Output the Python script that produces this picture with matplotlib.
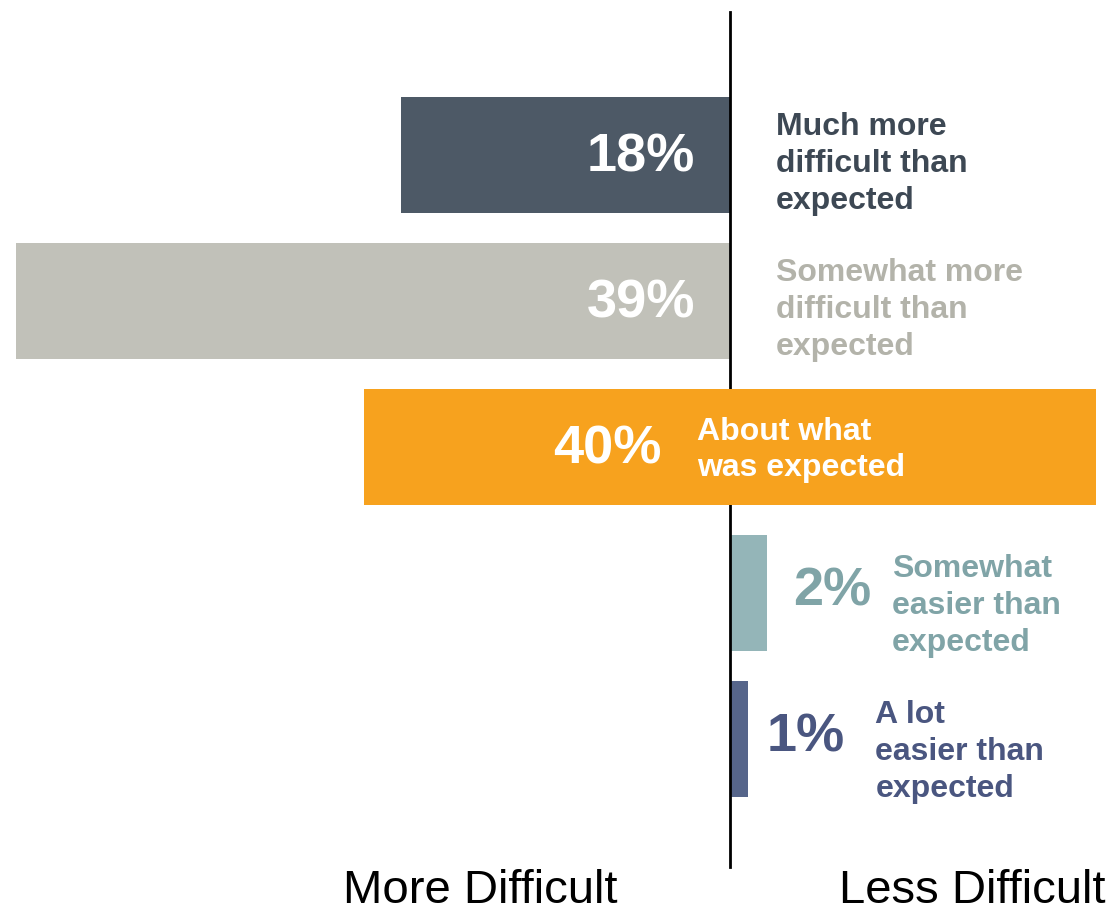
import matplotlib
matplotlib.use("Agg")
import matplotlib.pyplot as plt
from matplotlib.transforms import offset_copy

plt.rcParams['font.family'] = ['Liberation Sans', 'DejaVu Sans']

categories = ["Much more\ndifficult than\nexpected",
              "Somewhat more\ndifficult than\nexpected",
              "About what\nwas expected",
              "Somewhat\neasier than\nexpected",
              "A lot\neasier than\nexpected"]
values = [18, 39, 40, 2, 1]
groups = ["more", "more", "neutral", "less", "less"]
bar_colors = ["#4d5966", "#c1c1b9", "#f7a21e", "#94b5b8", "#56658a"]
text_colors = ["#3d4854", "#b3b3aa", "#ffffff", "#80a4a7", "#4a5680"]
axis_labels = ["More Difficult", "Less Difficult"]

W, H = 1115, 913
fig = plt.figure(figsize=(W / 100, H / 100), dpi=100)
ax = fig.add_axes([0, 0, 1, 1])

px = 1 / 18.3  # data units per pixel
ax.set_xlim(-730 * px, (W - 730) * px)
ax.set_ylim((H - 155) / 146, -155 / 146)
ax.axis('off')

lefts = []
for v, g in zip(values, groups):
    if g == "more":
        lefts.append(-v)
    elif g == "neutral":
        lefts.append(-v / 2)
    else:
        lefts.append(0)

ypos = list(range(len(values)))
bars = ax.barh(ypos, values, left=lefts, height=116 / 146, color=bar_colors, zorder=2)
for b, g in zip(bars, groups):
    if g == "neutral":
        b.set_zorder(3.5)

ax.axvline(0, ymin=1 - 867 / H, ymax=1 - 12 / H, color="black", lw=2, zorder=3)

def off(dx_px, dy_px=0):
    return offset_copy(ax.transData, fig=fig, x=dx_px * 0.72, y=-dy_px * 0.72, units='points')

pct_size = 39
lab_size = 23
ls = 1.3
for i, (cat, v, g) in enumerate(zip(categories, values, groups)):
    pct = f"{v}%"
    if g == "more":
        ax.text(0, i, pct, transform=off(-35, 2), ha='right', va='center',
                fontsize=pct_size, fontweight='bold', color='white', zorder=4)
        ax.text(0, i, cat, transform=off(46, 9), ha='left', va='center',
                fontsize=lab_size, fontweight='bold', color=text_colors[i],
                linespacing=ls, zorder=4)
    elif g == "neutral":
        ax.text(0, i, pct, transform=off(-68, 2), ha='right', va='center',
                fontsize=pct_size, fontweight='bold', color='white', zorder=4)
        ax.text(0, i, cat, transform=off(-33, 3), ha='left', va='center',
                fontsize=lab_size, fontweight='bold', color=text_colors[i],
                linespacing=ls, zorder=4)
    else:
        end = lefts[i] + v
        pct_off = 27 if v >= 2 else 18
        lab_off = 125 if v >= 2 else 127
        ax.text(end, i, pct, transform=off(pct_off, -2), ha='left', va='center',
                fontsize=pct_size, fontweight='bold', color=text_colors[i], zorder=4)
        ax.text(end, i, cat, transform=off(lab_off, 13), ha='left', va='center',
                fontsize=lab_size, fontweight='bold', color=text_colors[i],
                linespacing=ls, zorder=4)

fig.text(480 / W, 1 - 903 / H, axis_labels[0], ha='center', va='baseline',
         fontsize=34, color='black')
fig.text(972 / W, 1 - 903 / H, axis_labels[1], ha='center', va='baseline',
         fontsize=34, color='black')

fig.savefig("out.png", dpi=100)
